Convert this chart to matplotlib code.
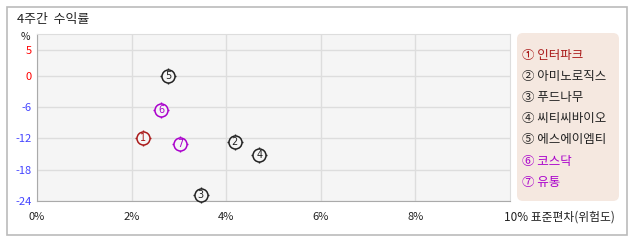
import matplotlib.pyplot as plt
from matplotlib.patches import FancyBboxPatch, Rectangle

plt.rcParams['font.family'] = ['Noto Sans CJK KR', 'DejaVu Sans']

# data
names = ['인터파크', '아미노로직스', '푸드나무', '씨티씨바이오', '에스에이엠티', '코스닥', '유통']
marks = ['①', '②', '③', '④', '⑤', '⑥', '⑦']
std_dev = [2.24, 4.18, 3.46, 4.70, 2.78, 2.63, 3.03]   # x, %
returns = [-12.0, -12.7, -22.8, -15.1, 0.0, -6.6, -13.1]  # y, %
colors = ['#aa1a1a', '#222222', '#222222', '#222222', '#222222', '#aa00cc', '#aa00cc']

x_ticks = [0, 2, 4, 6, 8]
y_ticks = [5, 0, -6, -12, -18, -24]

W, H = 638, 242
fig = plt.figure(figsize=(W / 100, H / 100), dpi=100)
px = fig.dpi_scale_trans

def inch(x, y):
    # top-left pixel coords -> inches
    return x / 100, (H - y) / 100

# outer frame
fig.patches.append(Rectangle(inch(7, 235), 6.20, 2.28, transform=px,
                             fill=False, edgecolor='#bbbbbb', linewidth=1.2))

fig.text(*inch(17, 19), '4주간  수익률', transform=px, fontsize=9.3, color='#222222', va='center')

ax = fig.add_axes([37 / W, (H - 201) / H, (510 - 37) / W, (201 - 34) / H])
ax.set_facecolor('#f5f5f5')
ax.set_xlim(0, 10)
ax.set_ylim(-24, 8)
ax.set_xticks(x_ticks)
ax.set_xticklabels([f'{t}%' for t in x_ticks], fontsize=8, color='#222222')
ax.set_yticks(y_ticks)
ax.set_yticklabels([str(t) for t in y_ticks], fontsize=8)
for lab, t in zip(ax.get_yticklabels(), y_ticks):
    lab.set_color('#ff0000' if t >= 0 else '#4444ff')
ax.tick_params(length=0, pad=4)
ax.tick_params(axis='x', pad=8)
ax.grid(True, color='#dddddd', linewidth=1)
ax.set_axisbelow(True)
for s in ax.spines.values():
    s.set_color('#dddddd')
ax.spines['left'].set_color('#aaaaaa')
ax.spines['bottom'].set_color('#aaaaaa')

fig.text(*inch(25, 37), '%', transform=px, fontsize=7.5, color='#222222', ha='center', va='center')
fig.text(*inch(504, 217), '10% 표준편차(위험도)', transform=px, fontsize=8.5, color='#222222', va='center')

# circled markers with small ticks
for x, y, m, c in zip(std_dev, returns, range(1, 8), colors):
    ax.scatter(x, y, marker='+', s=140, color=c, linewidths=1, zorder=3, clip_on=False)
    ax.scatter(x, y, marker='o', s=88, facecolor='#f5f5f5', edgecolor=c, linewidths=1.1,
               zorder=4, clip_on=False)
    ax.text(x, y, str(m), color=c, fontsize=7, ha='center', va='center', zorder=5,
            family='DejaVu Sans')

# legend box
fig.patches.append(FancyBboxPatch(inch(517, 201), 1.02, 1.68, transform=px,
                                  boxstyle='round,pad=0,rounding_size=0.06',
                                  facecolor='#f5e8e0', edgecolor='none'))
for i, (m, n, c) in enumerate(zip(marks, names, colors)):
    fig.text(*inch(522, 55 + i * 21.2), f'{m} {n}', transform=px, fontsize=9,
             color=c, va='center')

plt.savefig('out.png', dpi=100)
